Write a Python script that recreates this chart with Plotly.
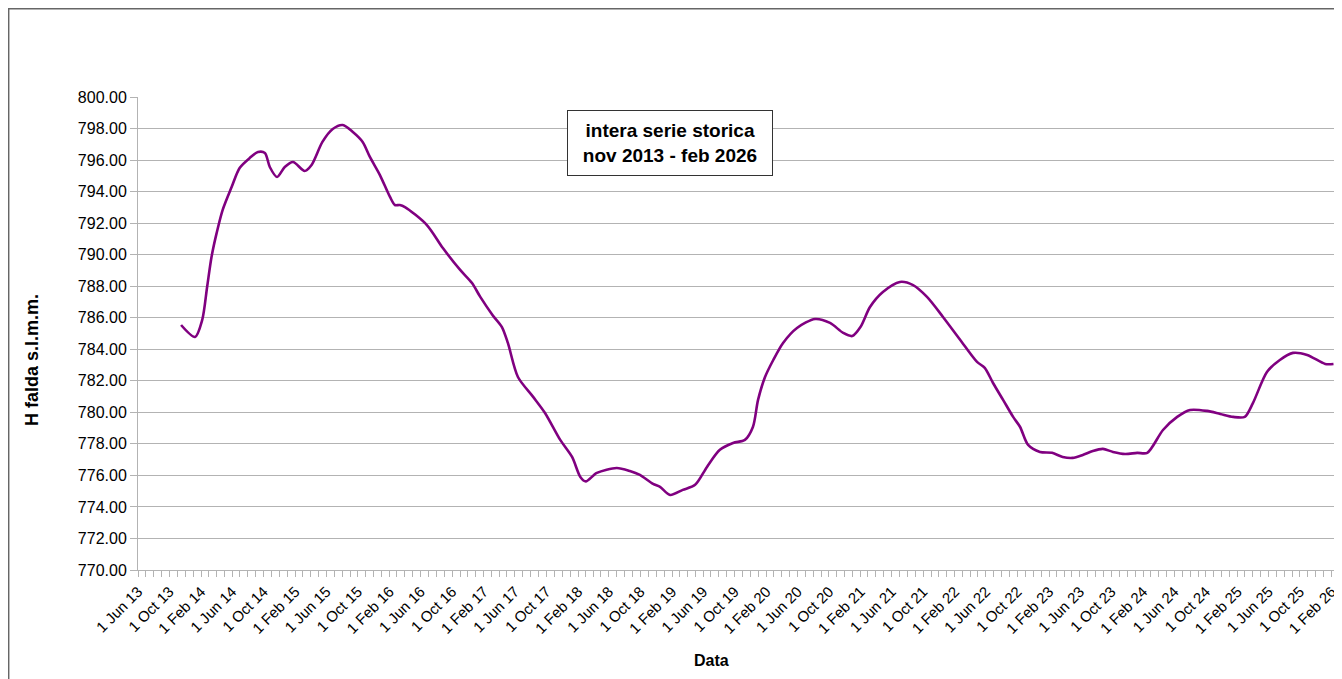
import plotly.graph_objects as go

dates = [
    "2013-11-15", "2014-01-08", "2014-02-05", "2014-02-24", "2014-03-13", "2014-04-02",
    "2014-04-25", "2014-05-30", "2014-06-30", "2014-08-08", "2014-09-09", "2014-10-06",
    "2014-10-25", "2014-11-22", "2014-12-22", "2015-01-23", "2015-03-09", "2015-04-05",
    "2015-05-17", "2015-06-26", "2015-08-04", "2015-09-12", "2015-10-20", "2015-11-17",
    "2015-12-26", "2016-02-03", "2016-02-22", "2016-03-12", "2016-04-01", "2016-06-25",
    "2016-08-26", "2016-11-01", "2016-12-17", "2017-01-18", "2017-03-07", "2017-04-12",
    "2017-05-05", "2017-06-13", "2017-08-11", "2017-09-26", "2017-11-24", "2018-01-09",
    "2018-02-10", "2018-03-03", "2018-04-15", "2018-07-01", "2018-08-21", "2018-09-29",
    "2018-11-19", "2018-12-16", "2019-01-24", "2019-03-14", "2019-05-01", "2019-06-16",
    "2019-08-05", "2019-09-25", "2019-11-10", "2019-12-11", "2019-12-31", "2020-01-27",
    "2020-02-28", "2020-04-06", "2020-05-30", "2020-08-08", "2020-10-05", "2020-11-25",
    "2020-12-30", "2021-01-31", "2021-03-09", "2021-04-28", "2021-07-03", "2021-08-23",
    "2021-10-16", "2021-12-17", "2022-02-22", "2022-04-28", "2022-05-28", "2022-06-29",
    "2022-08-07", "2022-09-15", "2022-10-12", "2022-11-12", "2022-12-28", "2023-02-13",
    "2023-03-26", "2023-05-04", "2023-06-12", "2023-07-21", "2023-08-29", "2023-10-07",
    "2023-11-23", "2024-01-09", "2024-02-17", "2024-04-18", "2024-06-12", "2024-08-01",
    "2024-10-06", "2024-11-26", "2025-01-15", "2025-03-01", "2025-04-02", "2025-05-26",
    "2025-07-15", "2025-09-04", "2025-10-29", "2026-01-07", "2026-02-08",
]
h_falda = [
    785.54, 784.78, 785.86, 787.95, 789.85, 791.38,
    792.83, 794.29, 795.50, 796.13, 796.51, 796.45,
    795.56, 794.93, 795.56, 795.88, 795.31, 795.69,
    797.15, 797.97, 798.22, 797.78, 797.15, 796.20,
    795.05, 793.66, 793.15, 793.15, 793.02, 791.88,
    790.42, 789.03, 788.20, 787.32, 786.16, 785.41,
    784.40, 782.24, 780.98, 779.96, 778.25, 777.17,
    775.90, 775.62, 776.16, 776.47, 776.28, 776.03,
    775.46, 775.27, 774.76, 775.08, 775.40, 776.54,
    777.62, 778.06, 778.25, 779.07, 780.79, 782.24,
    783.32, 784.40, 785.35, 785.92, 785.67, 785.04,
    784.84, 785.41, 786.68, 787.63, 788.27, 788.07,
    787.32, 786.05, 784.59, 783.20, 782.82, 781.86,
    780.79, 779.71, 779.07, 777.93, 777.49, 777.43,
    777.17, 777.11, 777.30, 777.55, 777.68, 777.49,
    777.36, 777.43, 777.43, 778.88, 779.71, 780.15,
    780.09, 779.90, 779.71, 779.71, 780.60, 782.56,
    783.32, 783.77, 783.64, 783.07, 783.07,
]

x_range = ["2013-06-01", "2026-03-13"]
y_range = [770, 800]
y_title = "H falda s.l.m.m."
x_title = "Data"
box_text = "intera serie storica<br>nov 2013 - feb 2026"

FONT = "Liberation Sans, Arial, sans-serif"
GRID = "#b3b3b3"

fig = go.Figure()
fig.add_trace(go.Scatter(
    x=dates, y=h_falda, mode="lines",
    line=dict(color="#800080", width=2.6, shape="spline", smoothing=0.8),
    showlegend=False, hoverinfo="x+y",
))

# page has an 8px body margin: figure occupies page (8..1342, 8..679)
fig.update_layout(
    width=1334, height=671,
    margin=dict(l=130, r=0, t=89, b=109),
    paper_bgcolor="white", plot_bgcolor="white",
    font=dict(family=FONT, color="#000000"),
    showlegend=False,
)

fig.update_xaxes(
    type="date", range=x_range,
    tick0="2013-06-01", dtick="M4", tickformat="%-d %b %y",
    tickangle=-45, tickfont=dict(size=15, family=FONT, color="#000000"),
    ticks="outside", ticklen=6, tickcolor=GRID, tickwidth=1,
    minor=dict(dtick="M1", ticks="outside", ticklen=6, tickcolor=GRID, tickwidth=1, showgrid=False),
    showgrid=False, showline=True, linecolor=GRID, linewidth=1,
    zeroline=False,
)
fig.update_yaxes(
    range=y_range, dtick=2, tick0=770, tickformat=".2f",
    tickfont=dict(size=16, family=FONT, color="#000000"),
    ticks="outside", ticklen=7, tickcolor=GRID, tickwidth=1,
    showgrid=True, gridcolor=GRID, gridwidth=1,
    showline=True, linecolor=GRID, linewidth=1, zeroline=False,
)

# Outer chart frame (only top/left visible in the crop)
fig.add_shape(type="rect", xref="paper", yref="paper",
              x0=-0.1074, x1=1.05, y0=-0.6, y1=1.1866,
              line=dict(color="#666666", width=1.5), fillcolor="rgba(0,0,0,0)", layer="above")

fig.add_annotation(
    x=0.4419, y=0.9017, xref="paper", yref="paper", xanchor="center", yanchor="middle",
    text=box_text, showarrow=False,
    font=dict(size=19, family=FONT, color="#000000", weight="bold"),
    bgcolor="white", bordercolor="#333333", borderwidth=1, borderpad=6,
    width=192, height=52, align="center",
)
fig.add_annotation(
    x=-0.088, y=0.444, xref="paper", yref="paper", xanchor="center", yanchor="middle",
    text=y_title, textangle=-90, showarrow=False,
    font=dict(size=18, family=FONT, color="#000000", weight="bold"),
)
fig.add_annotation(
    x=0.476, y=-0.192, xref="paper", yref="paper", xanchor="center", yanchor="middle",
    text=x_title, showarrow=False,
    font=dict(size=16, family=FONT, color="#000000", weight="bold"),
)

fig.write_html("out.html")
